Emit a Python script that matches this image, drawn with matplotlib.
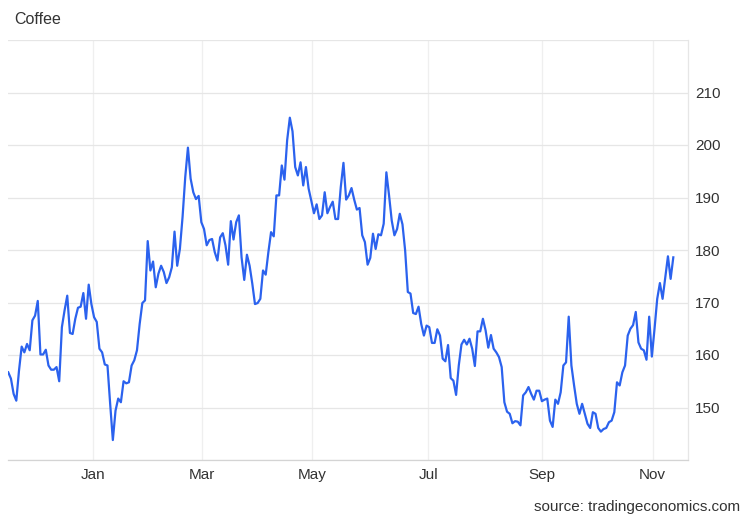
import numpy as np
import pandas as pd
import matplotlib
matplotlib.use("Agg")
import matplotlib.pyplot as plt

plt.rcParams['font.family'] = ['Liberation Sans', 'DejaVu Sans']

title = "Coffee"
source = "source: tradingeconomics.com"

# Coffee price (USd/lb), mid-Nov 2022 .. mid-Nov 2023
prices = [
    156.7, 155.5, 152.6, 151.3, 157.0, 161.6, 160.5, 162.1, 160.9, 166.6,
    167.5, 170.3, 160.1, 160.1, 161.0, 158.0, 157.2, 157.2, 157.7, 155.0,
    165.3, 168.5, 171.3, 164.2, 164.0, 166.9, 169.0, 169.2, 171.8, 166.9,
    173.4, 169.7, 167.2, 166.3, 161.2, 160.5, 158.2, 158.0, 150.7, 143.8,
    149.4, 151.7, 151.0, 155.0, 154.6, 154.8, 158.0, 159.0, 160.9, 165.9,
    169.9,
    170.4, 181.7, 176.1, 177.8, 172.9, 175.5, 177.0, 175.8, 173.7, 174.8,
    176.7, 183.5, 177.0, 180.2, 186.3, 193.9, 199.5, 193.6, 191.0, 189.7,
    190.3, 185.3, 184.0, 180.9, 181.9, 182.1, 179.6, 178.0, 182.4, 183.2,
    180.9, 177.2, 185.5, 182.0, 185.3, 186.6, 178.6, 174.3, 179.1, 177.0,
    173.6, 169.7, 169.9, 170.7, 176.1, 175.3, 179.6, 183.4, 182.6, 190.4,
    190.4, 196.1, 193.4, 200.9, 205.2, 202.6, 195.8, 194.2, 196.7, 192.3,
    195.8, 191.7, 189.4, 187.0, 188.7, 185.9, 186.6, 191.0, 187.0, 188.2,
    189.2, 185.9, 185.9, 192.0, 196.6, 189.6, 190.4, 191.8, 189.6, 187.7,
    188.0, 182.8, 181.5, 177.2, 178.5, 183.1, 180.2, 183.0, 182.8, 185.0,
    194.8, 190.4, 185.6, 182.8, 184.0, 186.9, 184.9, 179.9,
    172.0, 171.7, 168.0, 167.8, 169.2, 165.9, 163.7, 165.6, 165.3, 162.3,
    162.3, 164.9, 163.7, 159.3, 158.8, 161.9, 155.6, 155.1, 152.4, 158.0,
    162.0, 162.9, 162.0, 163.1, 161.2, 157.9, 164.5, 164.5, 166.9, 164.7,
    161.4, 163.8, 161.2, 160.5, 159.6, 157.7, 151.0, 149.2, 148.8, 147.0,
    147.4, 147.3, 146.6, 152.3, 152.9, 153.9, 152.6, 151.5, 153.2, 153.2,
    151.2, 151.5,
    151.7, 147.5, 146.3, 151.5, 150.7, 152.9, 158.0, 158.6, 167.3, 158.0,
    154.2, 150.7, 148.8, 150.7, 148.8, 146.9, 146.1, 149.1, 148.8, 146.1,
    145.4, 145.9, 146.1, 147.2, 147.5, 149.1, 154.8, 154.2, 156.7, 158.0,
    163.7, 165.0, 165.7, 168.2, 162.4, 161.2, 160.9, 159.1, 167.3, 159.7,
    165.0, 170.7, 173.7, 170.7, 174.8, 178.8, 174.5, 178.6,
]

start_date = "2022-11-16"
end_date = "2023-11-13"
tick_months = ["Jan", "Mar", "May", "Jul", "Sep", "Nov"]
y_ticks = [150, 160, 170, 180, 190, 200, 210]

trading_days = pd.bdate_range(start_date, end_date)
n_days = len(trading_days)
x = np.linspace(0, n_days - 1, len(prices))

# tick positions: first trading day of each new month (after the start month)
tick_pos, tick_lab = [], []
for i in range(1, n_days):
    if trading_days[i].month != trading_days[i - 1].month:
        lab = trading_days[i].strftime("%b")
        if lab in tick_months:
            tick_pos.append(i)
            tick_lab.append(lab)

fig = plt.figure(figsize=(7.5, 5.2), dpi=100)
ax = fig.add_axes([8 / 750, 1 - 460 / 520, 680 / 750, 420 / 520])

ax.plot(x, prices, color="#2b62ee", linewidth=1.6, solid_joinstyle="round")

ax.set_xlim(-0.1, 263.7)
ax.set_ylim(140, 220)

ax.set_yticks(y_ticks)
ax.set_yticks([140, 220], minor=True)
ax.yaxis.tick_right()
ax.tick_params(axis="y", which="both", length=0, pad=5, labelsize=11, labelcolor="#333333")
ax.set_xticks(tick_pos)
ax.set_xticklabels(tick_lab)
ax.tick_params(axis="x", length=0, pad=6, labelsize=11, labelcolor="#333333")

ax.grid(True, axis="y", which="both", color="#e6e6e6", linewidth=0.9)
ax.grid(True, axis="x", color="#efefef", linewidth=0.9)
ax.set_axisbelow(True)

for s in ["left", "top"]:
    ax.spines[s].set_visible(False)
ax.spines["right"].set_color("#e6e6e6")
ax.spines["right"].set_linewidth(0.9)
ax.spines["bottom"].set_color("#d4d4d4")
ax.spines["bottom"].set_linewidth(0.9)

fig.text(14 / 750, 1 - 19 / 520, title, fontsize=11.5, color="#333333", va="center", ha="left")
fig.text(740 / 750, 1 - 507 / 520, source, fontsize=11, color="#333333", va="center", ha="right")

fig.savefig("out.png", dpi=100)
